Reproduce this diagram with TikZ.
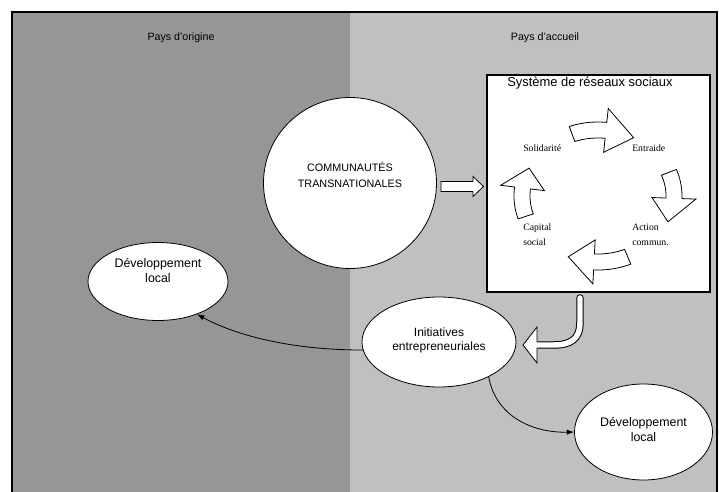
\documentclass[tikz,border=0pt]{standalone}
\usepackage{fontspec}
\setmainfont{Liberation Sans}
\newfontfamily\tnr{Liberation Serif}
\usetikzlibrary{shapes.geometric,arrows.meta}
\newcommand\cycarr[3]{%
  \draw[blk] plot[domain=#1:#2,samples=14] ({598+84*cos(\x)},{196+74*sin(\x)})
    -- ({598+98*cos(#2)},{196+88*sin(#2)})
    -- ({598+76*cos(#3)},{196+66*sin(#3)})
    -- ({598+54*cos(#2)},{196+44*sin(#2)})
    -- plot[domain=#2:#1,samples=14] ({598+68*cos(\x)},{196+58*sin(\x)}) -- cycle;}
\begin{document}
\begin{tikzpicture}[x=0.75pt,y=-0.75pt,
  oval/.style={ellipse,draw,fill=white,line width=0.6pt,inner sep=0pt},
  lbl/.style={align=center,inner sep=0pt,font=\fontsize{9.3}{11.25}\selectfont},
  cyc/.style={inner sep=0pt,align=left,anchor=west,font=\tnr\fontsize{7.3}{11.25}\selectfont},
  conn/.style={line width=0.6pt,-{Latex[length=5.5pt,width=4pt]}},
  blk/.style={draw,fill=white,line width=0.6pt,line join=miter}]
\useasboundingbox (0,0) rectangle (719,492);
% panels
\fill[white] (0,0) rectangle (719,492);
\fill[fill={rgb,255:red,150;green,150;blue,150}] (12,12) rectangle (350,492);
\fill[fill={rgb,255:red,192;green,192;blue,192}] (350,12) rectangle (717,492);
\draw[line width=1.2pt] (12,492) -- (12,12) -- (717,12) -- (717,492);
\node[font=\fontsize{8}{9}\selectfont] (porig) at (181,38) {Pays d'origine};
\node[font=\fontsize{8}{9}\selectfont] (pacc) at (545,38) {Pays d'accueil};
% social network box
\node[draw,fill=white,line width=2.2pt,minimum width=167.25pt,minimum height=162.75pt,inner sep=0pt] (box) at (598.5,183.5) {};
\node[anchor=west,inner sep=0pt,font=\fontsize{9.7}{12}\selectfont] (boxt) at (507,83) {Système de réseaux sociaux};
\cycarr{-110}{-84}{-62}
\cycarr{-21}{2}{23}
\cycarr{67}{93}{113}
\cycarr{162}{187}{205}
\node[cyc] (sol) at (523,148) {Solidarité};
\node[cyc] (ent) at (632,148) {Entraide};
\node[cyc] (cap) at (523,234.5) {Capital\\social};
\node[cyc] (act) at (632,234.5) {Action\\commun.};
% ellipses
\node[oval,minimum width=129.75pt,minimum height=128.25pt] (comm) at (350,183) {};
\node[lbl,font=\fontsize{8.1}{12}\selectfont] (commt) at (350,175) {COMMUNAUTÉS\\TRANSNATIONALES};
\node[oval,minimum width=105pt,minimum height=58.5pt] (devl) at (158,281.5) {};
\node[lbl] (devlt) at (158,270) {Développement\\local};
\node[oval,minimum width=115.5pt,minimum height=67.5pt] (ini) at (439,342) {};
\node[lbl,font=\fontsize{9}{10.5}\selectfont] (init) at (439,340) {Initiatives\\entrepreneuriales};
\node[oval,minimum width=103.5pt,minimum height=72pt] (devr) at (643.5,432) {};
\node[lbl] (devrt) at (643.5,429) {Développement\\local};
% straight block arrow comm -> box
\draw[blk] (441,181.5) -- (473,181.5) -- (473,176.5) -- (483.5,186.5) -- (473,196.5) -- (473,191.5) -- (441,191.5) -- cycle;
% hook arrow box -> ini
\coordinate (hs) at (580,298);
\coordinate (hb) at (580,322);
\coordinate (hh) at (538,345);
\draw[line width=5.6pt,line cap=round] (hs) -- (hb) .. controls (580,340) and (570,345) .. (553,345) -- (hh);
\draw[blk] (537,327) -- (523,345) -- (537,363) -- cycle;
\draw[white,line width=4.1pt,line cap=round] (hs) -- (hb) .. controls (580,340) and (570,345) .. (553,345) -- (535,345);
% connectors
\draw[conn] (ini.186) .. controls (290,350) and (235,335) .. (devl.-40);
\draw[conn] (ini.-35) .. controls (496,418) and (535,433) .. (devr.west);
\end{tikzpicture}
\end{document}
